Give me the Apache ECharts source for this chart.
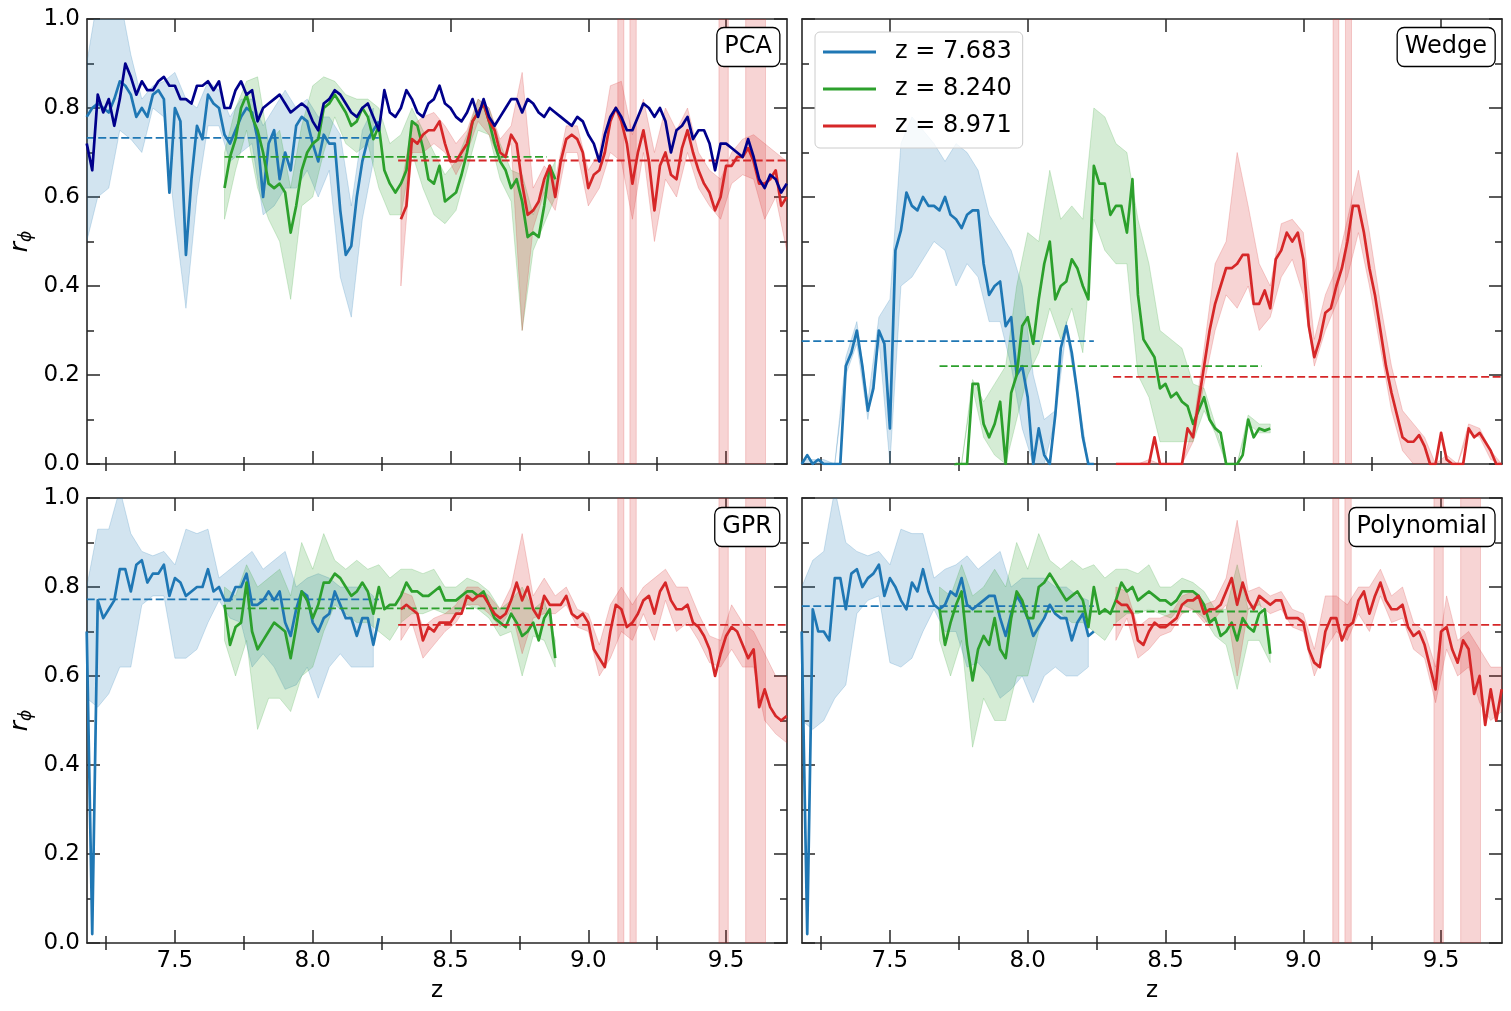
<!DOCTYPE html>
<html><head><meta charset="utf-8">
<script src="https://cdn.jsdelivr.net/npm/echarts@6/dist/echarts.min.js"></script>
<style>html,body{margin:0;padding:0;background:#fff}#c{width:1511px;height:1011px}</style>
</head><body><div id="c"></div>
<script>
// ---------------- data ----------------
const STEP = 0.02;      // line sample spacing in z
const BSTEP = 0.04;     // band sample spacing in z
const Z0_BLUE = 7.18, Z0_GREEN = 7.68, Z0_RED = 8.32, Z0_NAVY = 7.18;
const SERIES_NAMES = ['z = 7.683', 'z = 8.240', 'z = 8.971'];
const PANEL_NAMES = ['PCA', 'Wedge', 'GPR', 'Polynomial'];
const X_MAJOR = [7.5, 8.0, 8.5, 9.0, 9.5];
const X_MINOR = [7.25, 7.75, 8.25, 8.75, 9.25];
const MEAN_SPAN = [[7.18, 8.24], [7.68, 8.85], [8.31, 9.72]];

// PCA
const navyPCA = [0.72,0.66,0.83,0.79,0.82,0.76,0.82,0.90,0.87,0.83,0.86,0.84,0.84,0.86,0.87,0.85,0.85,0.82,0.82,0.81,
0.85,0.85,0.86,0.84,0.86,0.80,0.80,0.84,0.86,0.83,0.84,0.77,0.80,0.81,0.82,0.83,0.81,0.79,0.80,0.81,
0.80,0.77,0.75,0.81,0.82,0.84,0.83,0.81,0.79,0.78,0.80,0.81,0.78,0.75,0.84,0.79,0.78,0.80,0.84,0.82,
0.79,0.78,0.81,0.82,0.85,0.81,0.80,0.78,0.77,0.79,0.82,0.78,0.82,0.78,0.76,0.78,0.80,0.82,0.82,0.79,
0.82,0.81,0.79,0.78,0.80,0.79,0.78,0.77,0.76,0.78,0.77,0.74,0.72,0.68,0.74,0.78,0.80,0.78,0.75,0.75,
0.78,0.81,0.80,0.78,0.80,0.77,0.70,0.75,0.76,0.78,0.73,0.75,0.75,0.72,0.66,0.72,0.72,0.71,0.70,0.69,
0.73,0.69,0.64,0.62,0.65,0.64,0.61,0.63];
const bluePCA = [0.78,0.80,0.81,0.80,0.79,0.82,0.86,0.85,0.83,0.78,0.80,0.78,0.83,0.84,0.82,0.61,0.80,0.77,0.47,0.64,
0.76,0.73,0.83,0.81,0.80,0.74,0.72,0.75,0.78,0.80,0.79,0.73,0.60,0.72,0.75,0.64,0.70,0.66,0.76,0.78,
0.77,0.72,0.68,0.74,0.72,0.72,0.57,0.47,0.49,0.60,0.68,0.73,0.75,0.77];
const greenPCA = [0.62,0.69,0.73,0.80,0.83,0.78,0.75,0.70,0.63,0.62,0.63,0.61,0.52,0.58,0.66,0.70,0.72,0.73,0.80,0.81,
0.83,0.81,0.79,0.76,0.77,0.80,0.78,0.73,0.76,0.66,0.63,0.61,0.63,0.66,0.77,0.76,0.71,0.64,0.63,0.67,
0.59,0.60,0.61,0.65,0.70,0.77,0.79,0.81,0.77,0.72,0.68,0.66,0.62,0.64,0.59,0.51,0.52,0.51,0.58,0.67,0.64];
const redPCA = [0.55,0.58,0.73,0.72,0.74,0.75,0.75,0.77,0.72,0.68,0.68,0.70,0.72,0.77,0.79,0.81,0.77,0.75,
0.70,0.69,0.74,0.72,0.63,0.56,0.57,0.59,0.64,0.67,0.60,0.68,0.73,0.74,0.73,0.70,0.62,0.65,0.66,0.70,
0.77,0.80,0.77,0.72,0.63,0.70,0.75,0.68,0.57,0.67,0.70,0.65,0.64,0.71,0.75,0.70,0.66,0.63,0.61,0.57,
0.60,0.67,0.67,0.69,0.69,0.71,0.68,0.63,0.63,0.64,0.66,0.58,0.60];
const blueLoPCA = [0.50,0.60,0.62,0.75,0.73,0.70,0.80,0.78,0.55,0.35,0.60,0.76,0.76,0.68,0.70,0.72,0.56,0.58,0.62,0.62,0.66,0.60,0.66,0.42,0.33,0.55,0.68];
const blueHiPCA = [0.90,1.05,1.05,1.05,0.92,0.82,0.85,0.86,0.88,0.82,0.80,0.86,0.84,0.78,0.82,0.82,0.76,0.80,0.84,0.80,0.82,0.78,0.78,0.74,0.58,0.75,0.80];
const greenLoPCA = [0.55,0.66,0.75,0.62,0.55,0.50,0.37,0.58,0.60,0.70,0.78,0.72,0.70,0.72,0.62,0.56,0.56,0.70,0.62,0.56,0.54,0.57,0.66,0.75,0.74,0.64,0.59,0.30,0.48,0.54,0.60];
const greenHiPCA = [0.70,0.80,0.86,0.87,0.72,0.75,0.62,0.76,0.85,0.87,0.86,0.83,0.82,0.82,0.80,0.72,0.74,0.80,0.75,0.70,0.65,0.68,0.74,0.82,0.80,0.72,0.66,0.65,0.56,0.63,0.68];
const redLoPCA = [0.40,0.70,0.70,0.72,0.70,0.65,0.70,0.77,0.74,0.68,0.72,0.30,0.53,0.61,0.57,0.70,0.70,0.58,0.62,0.70,0.68,0.55,0.70,0.50,0.64,0.60,0.70,0.62,0.58,0.55,0.63,0.65,0.64,0.55,0.60,0.48];
const redHiPCA = [0.62,0.76,0.78,0.79,0.76,0.72,0.75,0.82,0.80,0.73,0.76,0.88,0.62,0.67,0.64,0.76,0.76,0.66,0.70,0.85,0.86,0.74,0.82,0.70,0.80,0.75,0.80,0.70,0.66,0.64,0.70,0.73,0.74,0.72,0.70,0.68];
const meanPCA = [0.733, 0.690, 0.682];
const spikesPCA = [[9.107,9.129],[9.151,9.174],[9.474,9.508],[9.571,9.643]];

// Wedge
const blueW = [0.00,0.02,0.00,0.01,0.00,0.00,0.00,0.00,0.22,0.25,0.30,0.22,0.12,0.17,0.30,0.27,0.08,0.48,0.525,0.61,
0.58,0.57,0.60,0.58,0.58,0.57,0.60,0.56,0.55,0.53,0.56,0.57,0.57,0.45,0.38,0.40,0.41,0.31,0.33,0.20,
0.22,0.15,0.00,0.08,0.02,0.00,0.11,0.26,0.31,0.25,0.16,0.06,0.00,0.00];
const greenW = [-0.03,-0.03,-0.03,0.00,0.00,0.00,0.18,0.18,0.09,0.06,0.09,0.14,0.00,0.16,0.20,0.31,0.33,0.27,0.37,0.45,
0.50,0.37,0.40,0.41,0.46,0.44,0.40,0.37,0.67,0.63,0.63,0.56,0.58,0.58,0.52,0.64,0.38,0.28,0.26,0.24,
0.17,0.18,0.15,0.16,0.14,0.13,0.09,0.12,0.15,0.10,0.08,0.07,0.00,0.00,0.00,0.02,0.10,0.06,0.08,0.075,0.08];
const redW = [0.00,0.00,0.00,0.00,0.00,0.00,0.00,0.06,0.00,0.00,0.00,0.00,0.00,0.08,0.06,0.14,0.22,0.30,
0.36,0.40,0.44,0.44,0.45,0.47,0.47,0.36,0.36,0.39,0.35,0.46,0.48,0.52,0.50,0.52,0.46,0.31,0.24,0.28,
0.34,0.35,0.40,0.44,0.50,0.58,0.58,0.52,0.44,0.38,0.30,0.22,0.16,0.11,0.06,0.05,0.05,0.065,0.04,0.00,
0.00,0.07,0.01,0.00,0.00,0.00,0.08,0.06,0.07,0.05,0.03,0.00,0.00];
const blueLoW = [0.00,0.00,0.00,0.00,0.20,0.27,0.10,0.28,0.00,0.40,0.42,0.46,0.50,0.48,0.40,0.45,0.42,0.32,0.32,0.22,0.08,0.00,0.00,0.10,0.30,0.15,0.00];
const blueHiW = [0.01,0.01,0.01,0.00,0.24,0.32,0.14,0.33,0.37,0.72,0.78,0.75,0.72,0.68,0.72,0.70,0.66,0.56,0.52,0.48,0.40,0.20,0.10,0.12,0.32,0.17,0.00];
const greenLoW = [-0.03,-0.03,0.00,0.17,0.06,0.02,0.00,0.10,0.20,0.25,0.35,0.28,0.35,0.25,0.55,0.48,0.45,0.45,0.20,0.15,0.05,0.05,0.05,0.05,0.12,0.07,0.00,0.00,0.09,0.07,0.07];
const greenHiW = [-0.03,-0.03,0.00,0.19,0.14,0.18,0.22,0.40,0.52,0.50,0.66,0.55,0.58,0.55,0.80,0.78,0.72,0.70,0.55,0.45,0.30,0.28,0.26,0.18,0.17,0.09,0.00,0.00,0.11,0.09,0.09];
const redLoW = [0.00,0.00,0.00,0.00,0.00,0.00,0.00,0.05,0.18,0.30,0.38,0.35,0.40,0.30,0.33,0.42,0.46,0.38,0.22,0.30,0.36,0.42,0.52,0.40,0.26,0.12,0.03,0.00,0.00,0.00,0.00,0.00,0.07,0.06,0.01,0.00];
const redHiW = [0.00,0.00,0.00,0.01,0.00,0.00,0.00,0.08,0.26,0.45,0.50,0.70,0.58,0.45,0.40,0.54,0.55,0.52,0.28,0.38,0.44,0.55,0.66,0.52,0.36,0.22,0.12,0.09,0.06,0.00,0.02,0.00,0.09,0.08,0.03,0.00];
const meanW = [0.276, 0.220, 0.196];
const spikesW = [[9.108,9.129],[9.153,9.175]];

// GPR
const blueG = [0.70,0.02,0.77,0.73,0.75,0.77,0.84,0.84,0.79,0.85,0.86,0.81,0.83,0.83,0.85,0.78,0.82,0.81,0.78,0.79,
0.80,0.80,0.84,0.79,0.80,0.77,0.77,0.80,0.80,0.83,0.76,0.76,0.77,0.79,0.77,0.79,0.72,0.69,0.75,0.79,
0.78,0.72,0.70,0.73,0.74,0.79,0.76,0.73,0.73,0.69,0.73,0.73,0.67,0.73];
const greenG = [0.76,0.67,0.71,0.72,0.81,0.70,0.66,0.68,0.70,0.72,0.71,0.70,0.64,0.71,0.79,0.77,0.73,0.76,0.81,0.81,
0.83,0.82,0.80,0.78,0.79,0.81,0.79,0.74,0.80,0.75,0.76,0.76,0.78,0.81,0.79,0.79,0.78,0.78,0.79,0.80,
0.77,0.77,0.77,0.78,0.79,0.79,0.78,0.79,0.76,0.73,0.72,0.71,0.74,0.72,0.69,0.70,0.72,0.68,0.73,0.75,0.64];
const redG = [0.75,0.76,0.75,0.74,0.68,0.71,0.70,0.72,0.72,0.72,0.74,0.74,0.78,0.77,0.78,0.78,0.76,0.74,
0.73,0.74,0.77,0.81,0.77,0.80,0.75,0.73,0.78,0.76,0.76,0.76,0.78,0.74,0.73,0.74,0.72,0.66,0.64,0.62,
0.70,0.76,0.75,0.71,0.72,0.74,0.77,0.78,0.74,0.79,0.81,0.77,0.75,0.75,0.76,0.72,0.71,0.69,0.66,0.60,
0.65,0.69,0.71,0.70,0.67,0.64,0.66,0.53,0.57,0.53,0.51,0.50,0.51];
const blueLoG = [0.55,0.53,0.56,0.62,0.62,0.76,0.78,0.78,0.64,0.64,0.66,0.72,0.77,0.73,0.72,0.62,0.65,0.62,0.57,0.58,0.62,0.55,0.62,0.65,0.62,0.62,0.62];
const blueHiG = [0.80,0.93,0.93,1.02,0.92,0.88,0.87,0.88,0.85,0.93,0.92,0.93,0.82,0.84,0.86,0.88,0.84,0.86,0.88,0.80,0.82,0.83,0.82,0.80,0.80,0.80,0.78];
const greenLoG = [0.68,0.60,0.68,0.48,0.55,0.55,0.52,0.60,0.62,0.70,0.76,0.74,0.72,0.72,0.70,0.68,0.72,0.74,0.74,0.75,0.74,0.74,0.76,0.75,0.73,0.69,0.70,0.60,0.69,0.68,0.62];
const greenHiG = [0.80,0.78,0.85,0.80,0.82,0.84,0.78,0.90,0.84,0.92,0.86,0.84,0.86,0.84,0.85,0.82,0.84,0.84,0.83,0.84,0.80,0.80,0.82,0.81,0.79,0.75,0.77,0.80,0.75,0.77,0.68];
const redLoG = [0.68,0.72,0.64,0.67,0.70,0.72,0.76,0.76,0.74,0.71,0.75,0.65,0.73,0.74,0.74,0.76,0.71,0.70,0.60,0.64,0.70,0.68,0.74,0.68,0.77,0.70,0.72,0.68,0.63,0.62,0.66,0.62,0.62,0.50,0.47,0.45];
const redHiG = [0.79,0.78,0.71,0.73,0.74,0.76,0.80,0.80,0.78,0.75,0.80,0.92,0.78,0.82,0.78,0.80,0.75,0.74,0.67,0.76,0.80,0.76,0.80,0.82,0.84,0.80,0.80,0.74,0.69,0.68,0.76,0.72,0.70,0.65,0.60,0.60];
const meanG = [0.772, 0.752, 0.715];
const spikesG = [[9.107,9.129],[9.151,9.174],[9.474,9.508],[9.571,9.643]];

// Polynomial
const blueP = [0.70,0.02,0.75,0.70,0.70,0.68,0.82,0.82,0.75,0.83,0.84,0.80,0.82,0.83,0.85,0.78,0.82,0.80,0.77,0.75,
0.81,0.79,0.84,0.79,0.76,0.75,0.76,0.79,0.78,0.82,0.76,0.75,0.76,0.77,0.78,0.78,0.73,0.69,0.74,0.78,
0.76,0.73,0.69,0.71,0.73,0.76,0.74,0.73,0.73,0.68,0.72,0.74,0.69,0.70];
const greenP = [0.75,0.67,0.72,0.76,0.79,0.67,0.59,0.66,0.69,0.67,0.73,0.66,0.64,0.73,0.79,0.77,0.73,0.73,0.80,0.81,
0.83,0.81,0.79,0.77,0.78,0.79,0.77,0.71,0.80,0.74,0.75,0.74,0.77,0.81,0.79,0.80,0.77,0.78,0.79,0.78,
0.77,0.77,0.76,0.77,0.79,0.79,0.79,0.78,0.76,0.72,0.73,0.69,0.70,0.72,0.68,0.73,0.71,0.70,0.74,0.75,0.65];
const redP = [0.77,0.76,0.76,0.74,0.68,0.67,0.70,0.72,0.71,0.71,0.72,0.73,0.76,0.77,0.77,0.78,0.74,0.75,
0.75,0.76,0.79,0.82,0.76,0.81,0.77,0.75,0.78,0.77,0.76,0.77,0.77,0.73,0.73,0.73,0.72,0.66,0.63,0.62,
0.70,0.73,0.73,0.68,0.71,0.72,0.77,0.79,0.74,0.78,0.81,0.77,0.75,0.75,0.76,0.71,0.69,0.70,0.67,0.62,
0.57,0.70,0.71,0.66,0.63,0.68,0.66,0.56,0.60,0.49,0.57,0.50,0.57];
const blueLoP = [0.50,0.48,0.50,0.55,0.58,0.74,0.77,0.78,0.63,0.62,0.64,0.70,0.75,0.70,0.70,0.62,0.63,0.60,0.55,0.57,0.60,0.54,0.60,0.62,0.60,0.60,0.62];
const blueHiP = [0.80,0.86,0.88,1.02,0.90,0.88,0.87,0.88,0.85,0.93,0.92,0.92,0.82,0.84,0.85,0.87,0.84,0.86,0.88,0.80,0.82,0.82,0.82,0.80,0.80,0.78,0.77];
const greenLoP = [0.68,0.60,0.68,0.44,0.55,0.50,0.50,0.60,0.60,0.70,0.76,0.74,0.72,0.72,0.70,0.68,0.72,0.74,0.74,0.75,0.74,0.73,0.76,0.75,0.73,0.69,0.67,0.57,0.68,0.68,0.63];
const greenHiP = [0.80,0.78,0.85,0.78,0.80,0.84,0.80,0.90,0.84,0.92,0.86,0.84,0.86,0.84,0.85,0.82,0.84,0.84,0.83,0.85,0.80,0.80,0.82,0.81,0.79,0.75,0.75,0.85,0.75,0.77,0.68];
const redLoP = [0.68,0.73,0.64,0.66,0.69,0.70,0.74,0.75,0.72,0.73,0.76,0.60,0.75,0.76,0.74,0.75,0.71,0.70,0.60,0.66,0.70,0.68,0.74,0.70,0.78,0.72,0.73,0.66,0.64,0.54,0.66,0.60,0.62,0.54,0.50,0.52];
const redHiP = [0.80,0.79,0.71,0.73,0.73,0.74,0.78,0.79,0.76,0.77,0.82,0.95,0.79,0.80,0.78,0.79,0.75,0.74,0.66,0.78,0.78,0.76,0.80,0.80,0.84,0.78,0.80,0.72,0.70,0.62,0.78,0.68,0.70,0.66,0.62,0.62];
const meanP = [0.757, 0.745, 0.715];
const spikesP = [[9.107,9.129],[9.151,9.174],[9.474,9.508],[9.571,9.643]];

// ---------------- chart ----------------
const COLORS = ['#1f77b4', '#2ca02c', '#d62728'];
const FILLS = ['rgba(31,119,180,0.2)', 'rgba(44,160,44,0.2)', 'rgba(214,39,40,0.2)'];
const NAVY = '#00008b';
const AXC = '#262626';
const FONT = 'DejaVu Sans';
const X_MIN = 7.181, X_MAX = 9.721;

const panels = [
  {lines:[bluePCA, greenPCA, redPCA], lo:[blueLoPCA, greenLoPCA, redLoPCA], hi:[blueHiPCA, greenHiPCA, redHiPCA], mean:meanPCA, spikes:spikesPCA, navy:navyPCA},
  {lines:[blueW, greenW, redW], lo:[blueLoW, greenLoW, redLoW], hi:[blueHiW, greenHiW, redHiW], mean:meanW, spikes:spikesW},
  {lines:[blueG, greenG, redG], lo:[blueLoG, greenLoG, redLoG], hi:[blueHiG, greenHiG, redHiG], mean:meanG, spikes:spikesG},
  {lines:[blueP, greenP, redP], lo:[blueLoP, greenLoP, redLoP], hi:[blueHiP, greenHiP, redHiP], mean:meanP, spikes:spikesP}
];
const Z0S = [Z0_BLUE, Z0_GREEN, Z0_RED];

const grids = [
  {left:87, top:19, width:700, height:445},
  {left:802, top:19, width:700, height:445},
  {left:87, top:498, width:700, height:445},
  {left:802, top:498, width:700, height:445}
];

const tickLine = {color:AXC, width:1.5};
const xAxes = [], yAxes = [];
grids.forEach((g, gi) => {
  const bottomRow = gi >= 2, leftCol = gi % 2 === 0;
  const common = {gridIndex:gi, type:'value', min:X_MIN, max:X_MAX, splitLine:{show:false}, animation:false};
  xAxes.push(Object.assign({}, common, {
    position:'bottom',
    axisLine:{show:true, onZero:false, lineStyle:{color:AXC, width:1.6}},
    axisTick:{show:true, inside:true, length:13, customValues:X_MAJOR, lineStyle:tickLine},
    axisLabel:{show:bottomRow, customValues:X_MAJOR, formatter:v => v.toFixed(1), color:'#000', fontSize:23, fontFamily:FONT, margin:7},
    name: bottomRow ? 'z' : '', nameLocation:'middle', nameGap:37,
    nameTextStyle:{fontSize:23, fontFamily:FONT, color:'#000'}
  }));
  xAxes.push(Object.assign({}, common, {
    position:'top',
    axisLine:{show:true, onZero:false, lineStyle:{color:AXC, width:1.6}},
    axisTick:{show:true, inside:true, length:13, customValues:X_MAJOR, lineStyle:tickLine},
    axisLabel:{show:false}
  }));
  xAxes.push(Object.assign({}, common, {
    position:'bottom', axisLine:{show:false},
    axisTick:{show:true, inside:true, length:7, customValues:X_MINOR, lineStyle:tickLine},
    axisLabel:{show:false}
  }));
  xAxes.push(Object.assign({}, common, {
    position:'top', axisLine:{show:false},
    axisTick:{show:true, inside:true, length:7, customValues:X_MINOR, lineStyle:tickLine},
    axisLabel:{show:false}
  }));
  const ycommon = {gridIndex:gi, type:'value', min:0, max:1, interval:0.2,
    axisLine:{show:true, onZero:false, lineStyle:{color:AXC, width:1.6}},
    axisTick:{show:true, inside:true, length:13, lineStyle:tickLine},
    minorTick:{show:true, splitNumber:2, length:7, lineStyle:tickLine},
    splitLine:{show:false}, minorSplitLine:{show:false}};
  yAxes.push(Object.assign({}, ycommon, {
    position:'left',
    axisLabel:{show:leftCol, formatter:v => v.toFixed(1), color:'#000', fontSize:23, fontFamily:FONT, margin:7},
    name: leftCol ? '{r|r}{p|ϕ}' : '', nameLocation:'middle', nameGap:52,
    nameTextStyle:{rich:{
      r:{fontSize:25, fontStyle:'italic', fontFamily:FONT, color:'#000', lineHeight:30, verticalAlign:'middle'},
      p:{fontSize:17, fontStyle:'italic', fontFamily:FONT, color:'#000', lineHeight:18, verticalAlign:'bottom'}
    }}
  }));
  yAxes.push(Object.assign({}, ycommon, {position:'right', axisLabel:{show:false}}));
});

function clipOf(params) {
  const cs = params.coordSys;
  return {type:'rect', shape:{x:cs.x, y:cs.y, width:cs.width, height:cs.height}};
}

function bandSeries(gi, z0, lo, hi, fill) {
  return {
    type:'custom', xAxisIndex:gi*4, yAxisIndex:gi*2, silent:true, z:1, animation:false,
    data: lo.map((v, i) => [z0 + i*BSTEP, v, hi[i]]),
    encode:{x:0, y:[1, 2]},
    renderItem(params, api) {
      if (params.dataIndex !== 0) return null;
      const pts = [];
      for (let i = 0; i < lo.length; i++) pts.push(api.coord([z0 + i*BSTEP, hi[i]]));
      for (let i = lo.length - 1; i >= 0; i--) pts.push(api.coord([z0 + i*BSTEP, lo[i]]));
      return {type:'polygon', shape:{points:pts}, style:{fill:fill, stroke:fill, lineWidth:1}, clipPath:clipOf(params)};
    }
  };
}

function spikeSeries(gi, spikes) {
  return {
    type:'custom', xAxisIndex:gi*4, yAxisIndex:gi*2, silent:true, z:1, animation:false,
    data: spikes.map(s => [s[0], s[1], 0, 1]),
    encode:{x:[0, 1], y:[2, 3]},
    renderItem(params, api) {
      const p0 = api.coord([api.value(0), api.value(3)]);
      const p1 = api.coord([api.value(1), api.value(2)]);
      return {type:'rect', shape:{x:p0[0], y:p0[1], width:p1[0]-p0[0], height:p1[1]-p0[1]},
        style:{fill:FILLS[2], stroke:FILLS[2], lineWidth:1}, clipPath:clipOf(params)};
    }
  };
}

function lineSeries(gi, z0, vals, color, name, width, zz) {
  return {
    type:'line', name:name, xAxisIndex:gi*4, yAxisIndex:gi*2, z:zz,
    data: vals.map((v, i) => [z0 + i*STEP, v]),
    symbol:'none', showSymbol:false, clip:true, silent:true, animation:false,
    lineStyle:{color:color, width:width, join:'round'}, itemStyle:{color:color}, emphasis:{disabled:true}
  };
}

function meanSeries(gi, span, m, color) {
  return {
    type:'line', xAxisIndex:gi*4, yAxisIndex:gi*2, z:3,
    data:[[span[0], m], [span[1], m]], symbol:'none', silent:true, animation:false,
    lineStyle:{color:color, width:1.8, type:[8, 3.5]}
  };
}

const series = [];
panels.forEach((p, gi) => {
  series.push(spikeSeries(gi, p.spikes));
  for (let k = 0; k < 3; k++) series.push(bandSeries(gi, Z0S[k], p.lo[k], p.hi[k], FILLS[k]));
  for (let k = 0; k < 3; k++) {
    series.push(lineSeries(gi, Z0S[k], p.lines[k], COLORS[k], SERIES_NAMES[k], 2.7, 3));
    series.push(meanSeries(gi, MEAN_SPAN[k], p.mean[k], COLORS[k]));
  }
  if (p.navy) series.push(lineSeries(gi, Z0_NAVY, p.navy, NAVY, 'navy', 2.7, 4));
});

const titleStyle = {fontSize:24, fontWeight:'normal', fontFamily:FONT, color:'#000', lineHeight:30};
const titleBox = {padding:[5, 8, 5, 8], borderColor:'#000', borderWidth:1.3, borderRadius:7, backgroundColor:'#fff', textStyle:titleStyle};
const titles = [
  Object.assign({text:PANEL_NAMES[0], right:731, top:27}, titleBox),
  Object.assign({text:PANEL_NAMES[1], right:16, top:27}, titleBox),
  Object.assign({text:PANEL_NAMES[2], right:731, top:507}, titleBox),
  Object.assign({text:PANEL_NAMES[3], right:16, top:507}, titleBox)
];

const chart = echarts.init(document.getElementById('c'), null, {renderer:'canvas'});
chart.setOption({
  animation:false,
  backgroundColor:'#fff',
  title:titles,
  grid:grids,
  xAxis:xAxes,
  yAxis:yAxes,
  legend:{
    left:815, top:32, orient:'vertical', z:10,
    itemWidth:53, itemHeight:3, itemGap:9,
    padding:[6, 11, 8, 8],
    backgroundColor:'rgba(255,255,255,0.8)', borderColor:'#cccccc', borderWidth:1, borderRadius:5,
    selectedMode:false,
    textStyle:{fontSize:24, fontFamily:FONT, color:'#000', lineHeight:28, padding:[0, 0, 0, 14]},
    data:SERIES_NAMES.map((n, k) => ({name:n, icon:'rect', itemStyle:{color:COLORS[k]}}))
  },
  series:series
});
</script></body></html>
